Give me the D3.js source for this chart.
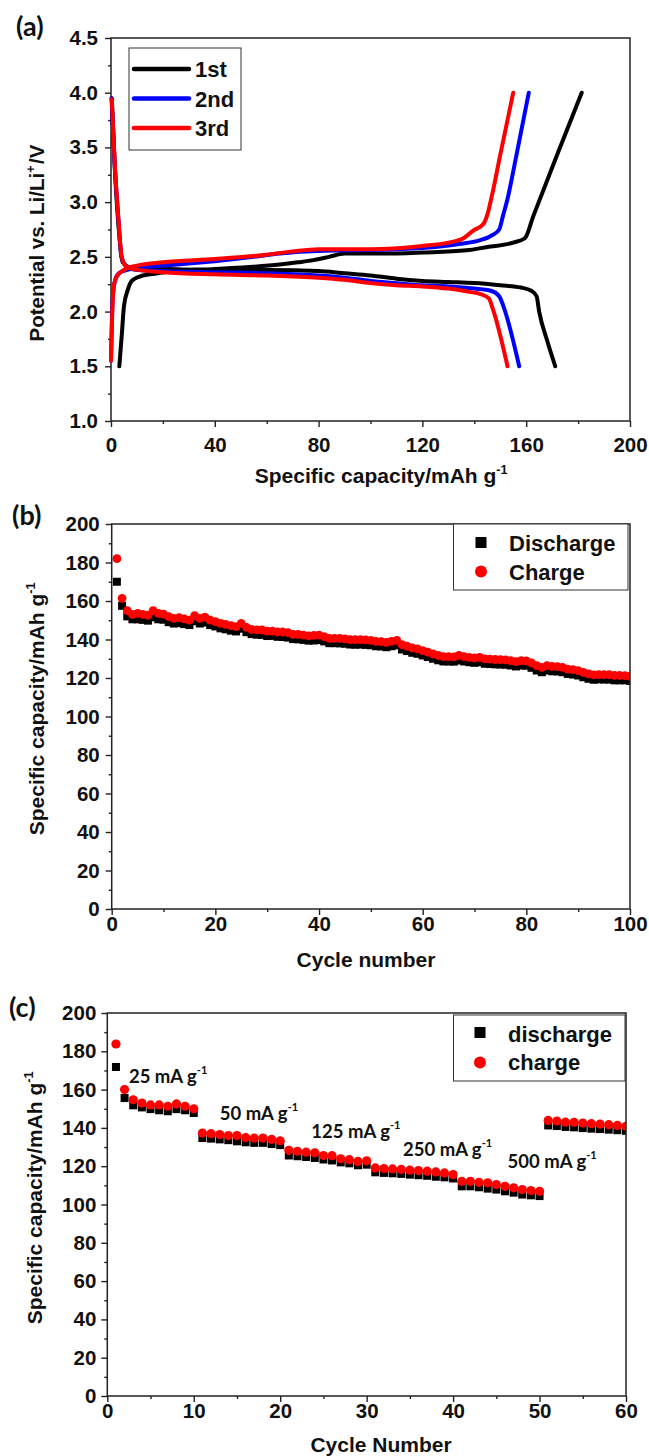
<!DOCTYPE html>
<html><head><meta charset="utf-8">
<script src="https://cdn.jsdelivr.net/npm/d3@7"></script>
<style>
html,body{margin:0;padding:0;background:#fff;}
svg text{font-weight:bold;fill:#111;}
</style></head><body>
<svg id="chart" width="649" height="1456"></svg>
<script>
// ---------------- DATA ----------------
// Panel (a): voltage profiles [capacity mAh/g, potential V]
const cycleNames = ["1st", "2nd", "3rd"];
const charge1 = [[3.2,1.5],[4.2,1.8],[5,2.05],[6.5,2.2],[8,2.28],[11,2.32],[15,2.34],[25,2.37],[40,2.39],[55,2.41],[65,2.43],[72,2.45],[78,2.47],[84,2.5],[90,2.53],[95,2.53],[105,2.53],[120,2.54],[137,2.56],[145,2.59],[155,2.63],[159.5,2.67],[162.7,2.87],[171.7,3.42],[181.4,4.0]];
const discharge1 = [[0.3,3.95],[1.5,3.3],[3,2.75],[4.5,2.45],[8,2.4],[20,2.39],[40,2.38],[60,2.38],[80,2.37],[90,2.35],[100,2.33],[110,2.3],[120,2.28],[130,2.27],[140,2.26],[150,2.24],[158,2.22],[162,2.19],[164,2.14],[165,2.0],[168,1.74],[171.2,1.5]];
const charge2 = [[0,1.55],[0.6,2.1],[1.5,2.28],[3,2.35],[6,2.38],[10,2.4],[20,2.42],[40,2.46],[55,2.5],[65,2.53],[75,2.55],[90,2.56],[110,2.57],[125,2.59],[135,2.62],[142,2.65],[147,2.7],[149.6,2.75],[151,2.87],[153,3.05],[156,3.4],[161,4.0]];
const discharge2 = [[0.2,3.95],[1.4,3.35],[3,2.8],[4,2.5],[6,2.41],[10,2.38],[40,2.36],[60,2.35],[80,2.33],[90,2.31],[100,2.28],[110,2.26],[120,2.24],[130,2.23],[140,2.21],[146.4,2.19],[149.6,2.14],[151.2,2.05],[157.3,1.5]];
const charge3 = [[0,1.55],[0.5,2.0],[1.2,2.25],[2.5,2.33],[5,2.38],[10,2.42],[20,2.45],[40,2.48],[60,2.52],[70,2.55],[80,2.57],[100,2.57],[120,2.6],[130,2.63],[135.8,2.67],[139.6,2.74],[143.5,2.8],[145.2,2.9],[146.7,3.05],[149.9,3.42],[155,4.0]];
const discharge3 = [[0.3,3.94],[1.5,3.33],[3,2.8],[4,2.52],[5.5,2.42],[8,2.39],[20,2.36],[40,2.34],[60,2.33],[80,2.31],[90,2.29],[100,2.26],[110,2.24],[120,2.23],[130,2.21],[138,2.18],[142.4,2.16],[145.6,2.12],[147.2,2.02],[152.8,1.5]];
const xTicksA = [0,40,80,120,160,200];
const yTicksA = [1.0,1.5,2.0,2.5,3.0,3.5,4.0,4.5];

// Panel (b): cycling, 100 cycles
const cyclesB = d3.range(1, 101);
const chargeB = [182,161.4,155,153.1,153.6,153.1,152.6,155,153.6,153.2,151.9,151,151.4,150.7,150.1,152.4,151,151.6,150.1,149.3,148.4,147.9,147.2,146.7,148.4,146.3,145.3,145,145,144.4,144.4,143.9,143.9,143.6,142.7,142.7,142.3,141.9,142.1,142.3,141.5,140.6,140.6,140.6,140.3,139.9,139.9,139.9,139.8,139.5,139,138.9,138.5,139,139.5,137.3,136.5,135.6,135.1,134.2,133.4,132.5,131.7,131.1,131.1,131,131.7,131.1,130.7,130.4,130.7,129.9,129.8,129.6,129.5,129.4,129,128.5,129,128.9,127.8,126.4,125.5,126.4,126,125.9,125.5,124.6,124.3,123.8,122.9,122.1,121.6,121.8,121.7,121.7,121.3,121.3,121.2,120.9];
const dischargeB = [170,157.5,152,150.5,150.5,150.2,149.8,151.5,150.5,150.3,149,148.3,148.5,148,147.5,149.5,148.3,148.8,147.5,146.8,145.8,145.3,144.6,144.2,145.6,143.8,142.8,142.5,142.4,141.8,141.9,141.4,141.3,141,140.2,140.1,139.8,139.4,139.5,139.7,139,138.1,138.1,138,137.8,137.4,137.3,137.4,137.2,137,136.5,136.4,136,136.5,137,134.8,134,133.1,132.6,131.7,130.9,130,129.2,128.6,128.6,128.5,129.1,128.6,128.2,127.9,128.2,127.4,127.3,127.1,127,126.9,126.5,126,126.5,126.4,125.3,123.9,123,123.9,123.5,123.4,123,122.1,121.8,121.3,120.4,119.6,119.1,119.3,119.2,119.2,118.8,118.8,118.8,118.5];
const xTicksB = [0,20,40,60,80,100];
const yTicksBC = [0,20,40,60,80,100,120,140,160,180,200];

// Panel (c): rate capability, 60 cycles
const cyclesC = d3.range(1, 61);
const chargeC = [183.8,160,154.7,153,152,152,151.3,152.5,151.3,150,137.3,137,136.5,136,136,135,134.7,134.7,134,133.3,128.3,127.8,127.3,127,125.6,125.5,123.9,123.4,122.5,122.8,119.1,118.8,118.6,118.3,117.9,117.7,117.4,117,116.5,115.6,112.1,112.1,111.6,111.3,110.4,109.5,108.7,107.8,107.3,106.9,143.9,143.6,143,142.9,142.5,142.2,142,141.7,141.3,140.8];
const dischargeC = [171.8,155.6,151.8,150.7,149.8,149.2,148.7,149.8,149.2,147.8,134.7,134.4,134,133.6,133,132.5,132.2,132.2,131.6,131,125.6,125.2,124.8,124.3,123.5,123,122,121.5,120.5,120.8,116.8,116.5,116.3,116,115.6,115.3,115,114.5,114.2,113.6,109.5,109.5,109,108.3,107.8,106.9,106.2,105.2,104.8,104.4,141.3,141,140.5,140.3,139.9,139.6,139.4,139.1,138.8,138.5];
const rateLabels = ["25", "50", "125", "250", "500"];
const xTicksC = [0,10,20,30,40,50,60];

// ---------------- LAYOUT ----------------
const FONT = '"Liberation Sans", Arial, sans-serif';
const CAL = 'Lato, "Open Sans", sans-serif';
const svg = d3.select("#chart");

function frame(cfg) {
  const g = svg.append("g");
  const [xl, xr] = cfg.x.range();
  const [yb, yt] = cfg.y.range();
  const style = sel => sel.call(s => s.select(".domain").remove())
    .call(s => s.selectAll("line").attr("stroke", "#222").attr("stroke-width", 1.4))
    .attr("font-family", FONT).attr("font-size", 20.5).attr("font-weight", "bold");
  g.append("g").attr("transform", `translate(0,${yb})`)
    .call(d3.axisBottom(cfg.x).tickValues(cfg.xMinor).tickSize(3).tickFormat("")).call(style);
  g.append("g").attr("transform", `translate(0,${yb})`)
    .call(d3.axisBottom(cfg.x).tickValues(cfg.xMajor).tickSize(6).tickPadding(cfg.padX).tickFormat(d3.format("d"))).call(style);
  g.append("g").attr("transform", `translate(${xl},0)`)
    .call(d3.axisLeft(cfg.y).tickValues(cfg.yMinor).tickSize(3).tickFormat("")).call(style);
  g.append("g").attr("transform", `translate(${xl},0)`)
    .call(d3.axisLeft(cfg.y).tickValues(cfg.yMajor).tickSize(6).tickPadding(cfg.padY).tickFormat(cfg.yFmt)).call(style);
  g.selectAll("text").attr("fill", "#111");
  g.append("rect").attr("x", xl).attr("y", yt).attr("width", xr - xl).attr("height", yb - yt)
    .attr("fill", "none").attr("stroke", "#222").attr("stroke-width", 1.5);
  return g;
}

function supText(x, y, parts, size, rotate, anchor, family) {
  const t = svg.append("text").attr("font-size", size).style("font-family", family || FONT)
    .attr("font-weight", "bold").attr("text-anchor", anchor || "middle");
  if (rotate) t.attr("transform", `translate(${x},${y}) rotate(-90)`);
  else t.attr("x", x).attr("y", y);
  parts.forEach(p => {
    if (p.sup) {
      t.append("tspan").attr("font-size", size * 0.6).attr("dy", -size * 0.45).text(p.sup);
      t.append("tspan").attr("dy", size * 0.45).text("\u200A");
    } else t.append("tspan").text(p.t);
  });
  return t;
}

function plainText(x, y, txt, size) {
  return svg.append("text").attr("x", x).attr("y", y).style("font-family", FONT)
    .attr("font-size", size).attr("font-weight", "bold").text(txt);
}

function panelLabel(txt, x, y) {
  svg.append("text").attr("x", x).attr("y", y).style("font-family", CAL)
    .attr("font-size", 27).attr("font-weight", "bold").text(txt);
}

// ---------------- PANEL (a) ----------------
{
  const x = d3.scaleLinear().domain([0, 200]).range([111, 630]);
  const y = d3.scaleLinear().domain([1.0, 4.5]).range([421, 38]);
  frame({x, y, xMajor: xTicksA, xMinor: [20,60,100,140,180], yMajor: yTicksA,
    yMinor: [1.25,1.75,2.25,2.75,3.25,3.75,4.25], yFmt: d3.format(".1f"), padX: 10, padY: 7});
  const line = d3.line().x(d => x(d[0])).y(d => y(d[1])).curve(d3.curveMonotoneX);
  const curves = [[charge1, discharge1, "#000"], [charge2, discharge2, "#0000ff"], [charge3, discharge3, "#ff0000"]];
  curves.forEach(([c, d, col]) => {
    [c, d].forEach(arr => svg.append("path").datum(arr).attr("d", line).attr("fill", "none")
      .attr("stroke", col).attr("stroke-width", 4).attr("stroke-linejoin", "round").attr("stroke-linecap", "round"));
  });
  // legend
  svg.append("rect").attr("x", 129).attr("y", 48).attr("width", 112).attr("height", 102)
    .attr("fill", "#fff").attr("stroke", "#333").attr("stroke-width", 1);
  cycleNames.forEach((n, i) => {
    const yy = 69 + i * 29.5;
    svg.append("line").attr("x1", 134).attr("x2", 189).attr("y1", yy).attr("y2", yy)
      .attr("stroke", curves[i][2]).attr("stroke-width", 4.5).attr("stroke-linecap", "round");
    plainText(195, yy + 8, n, 22);
  });
  supText(382, 483, [{t: "Specific capacity/mAh g"}, {sup: "-1"}], 21);
  supText(44, 243, [{t: "Potential vs. Li/Li"}, {sup: "+"}, {t: "/V"}], 20.5, true);
  panelLabel("(a)", 16, 36);
}

// ---------------- PANEL (b) ----------------
{
  const x = d3.scaleLinear().domain([0, 100]).range([111.7, 630]);
  const y = d3.scaleLinear().domain([0, 200]).range([909, 524]);
  svg.append("clipPath").attr("id", "clipB").append("rect")
    .attr("x", 111.7).attr("y", 524).attr("width", 630 - 111.7).attr("height", 385);
  const gd = svg.append("g").attr("clip-path", "url(#clipB)");
  gd.selectAll("rect.d").data(cyclesB).join("rect").attr("class", "d")
    .attr("x", c => x(c) - 4).attr("y", (c, i) => y(dischargeB[i]) - 4)
    .attr("width", 8).attr("height", 8).attr("fill", "#000");
  gd.selectAll("circle.c").data(cyclesB).join("circle").attr("class", "c")
    .attr("cx", c => x(c)).attr("cy", (c, i) => y(chargeB[i])).attr("r", 4.4).attr("fill", "#ff0000");
  frame({x, y, xMajor: xTicksB, xMinor: [10,30,50,70,90], yMajor: yTicksBC,
    yMinor: [10,30,50,70,90,110,130,150,170,190], yFmt: d3.format("d"), padX: 1, padY: 6});
  svg.append("rect").attr("x", 453.5).attr("y", 524).attr("width", 174.5).attr("height", 66)
    .attr("fill", "#fff").attr("stroke", "#333").attr("stroke-width", 1);
  svg.append("rect").attr("x", 475.5).attr("y", 537).attr("width", 11).attr("height", 11).attr("fill", "#000");
  svg.append("circle").attr("cx", 481).attr("cy", 571.5).attr("r", 6).attr("fill", "#ff0000");
  plainText(509, 550.5, "Discharge", 22);
  plainText(509, 580, "Charge", 22);
  supText(366, 967, [{t: "Cycle number"}], 21);
  supText(44, 708, [{t: "Specific capacity/mAh g"}, {sup: "-1"}], 21, true);
  panelLabel("(b)", 12, 525);
}

// ---------------- PANEL (c) ----------------
{
  const x = d3.scaleLinear().domain([0, 60]).range([107.3, 626]);
  const y = d3.scaleLinear().domain([0, 200]).range([1396, 1013]);
  svg.append("clipPath").attr("id", "clipC").append("rect")
    .attr("x", 107.3).attr("y", 1013).attr("width", 626 - 107.3).attr("height", 383);
  const gd = svg.append("g").attr("clip-path", "url(#clipC)");
  gd.selectAll("rect.d").data(cyclesC).join("rect").attr("class", "d")
    .attr("x", c => x(c) - 4).attr("y", (c, i) => y(dischargeC[i]) - 4)
    .attr("width", 8).attr("height", 8).attr("fill", "#000");
  gd.selectAll("circle.c").data(cyclesC).join("circle").attr("class", "c")
    .attr("cx", c => x(c)).attr("cy", (c, i) => y(chargeC[i])).attr("r", 4.6).attr("fill", "#ff0000");
  frame({x, y, xMajor: xTicksC, xMinor: [5,15,25,35,45,55], yMajor: yTicksBC,
    yMinor: [10,30,50,70,90,110,130,150,170,190], yFmt: d3.format("d"), padX: 1, padY: 5});
  // rate annotations: anchor at [cycle, capacity]
  const rateAnchors = [[2.5, 163.6], [13.0, 143.9], [23.6, 134.9], [34.2, 125.1], [46.3, 119.1]];
  rateLabels.forEach((r, i) => {
    const t = svg.append("text").attr("x", x(rateAnchors[i][0])).attr("y", y(rateAnchors[i][1]))
      .style("font-family", CAL).attr("font-size", 18.5).attr("font-weight", "bold");
    t.append("tspan").text(r + " mA g");
    t.append("tspan").attr("font-size", 11).attr("dy", -9).text("-1");
  });
  svg.append("rect").attr("x", 453.5).attr("y", 1015).attr("width", 171.5).attr("height", 66)
    .attr("fill", "#fff").attr("stroke", "#333").attr("stroke-width", 1);
  svg.append("rect").attr("x", 474.5).attr("y", 1027).attr("width", 11).attr("height", 11).attr("fill", "#000");
  svg.append("circle").attr("cx", 480).attr("cy", 1062.5).attr("r", 6).attr("fill", "#ff0000");
  plainText(508, 1041.5, "discharge", 22);
  plainText(508, 1070, "charge", 22);
  supText(381, 1452, [{t: "Cycle Number"}], 21);
  supText(42, 1197, [{t: "Specific capacity/mAh g"}, {sup: "-1"}], 21, true);
  panelLabel("(c)", 9, 1017);
}
</script>
</body></html>
